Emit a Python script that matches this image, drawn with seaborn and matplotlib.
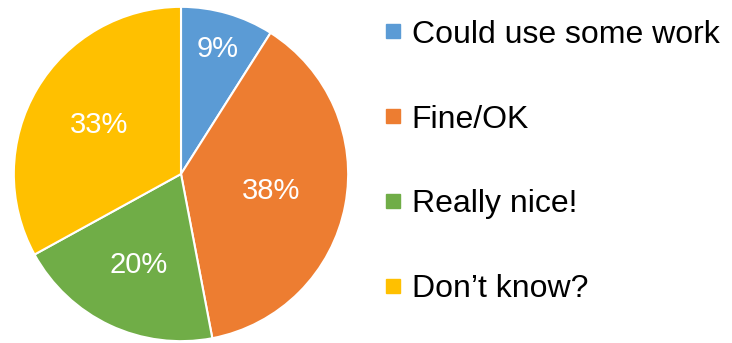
import numpy as np
import matplotlib
matplotlib.use("Agg")
import matplotlib.pyplot as plt
import seaborn as sns
from matplotlib.lines import Line2D

categories = ['Could use some work', 'Fine/OK', 'Really nice!', 'Don\u2019t know?']
shares = [9, 38, 20, 33]
colors = ['#5B9BD5', '#ED7D31', '#70AD47', '#FFC000']

sns.set_style("white")
plt.rcParams['font.family'] = ['Liberation Sans', 'DejaVu Sans']

fig = plt.figure(figsize=(7.32, 3.43), dpi=100)
ax = fig.add_axes([13 / 732, 1 / 343, 336 / 732, 336 / 343])

wedges, texts, autotexts = ax.pie(
    shares, colors=colors, startangle=90, counterclock=False,
    autopct='%1.0f%%', pctdistance=0.6,
    wedgeprops=dict(edgecolor='white', linewidth=1.5),
    textprops=dict(color='white', fontsize=21))

# per-slice label distance (office-style best fit)
label_r = [0.78, 0.55, 0.6, 0.57]
for w, t, r in zip(wedges, autotexts, label_r):
    ang = np.deg2rad((w.theta1 + w.theta2) / 2)
    t.set_position((r * np.cos(ang), r * np.sin(ang)))
ax.set_xlim(-1.005, 1.005)
ax.set_ylim(-1.005, 1.005)
ax.set_aspect('equal')

handles = [Line2D([], [], marker='s', linestyle='', markersize=9.5,
                  markerfacecolor=c, markeredgecolor=c) for c in colors]
leg = fig.legend(handles, categories, loc='center left',
                 bbox_to_anchor=(383 / 732, 1 - 162 / 343), frameon=False,
                 fontsize=23, handlelength=0.6, handletextpad=0.3,
                 labelspacing=1.72, borderaxespad=0, borderpad=0)
for t in leg.get_texts():
    t.set_color('black')

plt.savefig('out.png', dpi=100)
plt.close()
